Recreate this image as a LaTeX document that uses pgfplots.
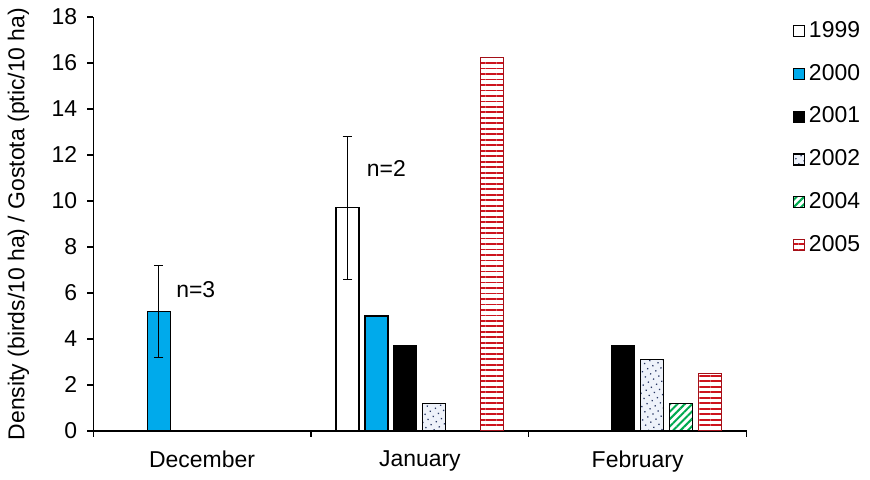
\documentclass[border=0pt]{standalone}
\usepackage{pgfplots}
\pgfplotsset{compat=1.18}
\usepackage{fontspec}
\setmainfont{Liberation Sans}
\usetikzlibrary{patterns.meta}
\definecolor{c2000}{RGB}{0,170,235}
\definecolor{c2004}{RGB}{0,170,80}
\definecolor{c2005}{RGB}{205,20,30}
\definecolor{c2002}{RGB}{40,55,100}
\definecolor{c2002bg}{RGB}{238,242,250}
\pgfplotsset{/pgfplots/ybar legend/.style={/pgfplots/legend image code/.code={\draw[##1,bar shift=0pt] (0pt,-2.75pt) rectangle (5.5pt,2.75pt);}}}
\begin{document}
\fontsize{11.5}{13.5}\selectfont
\begin{tikzpicture}[font=\fontsize{11.5}{13.5}\selectfont]
\begin{axis}[
  name=ax,
  scale only axis, width=327.5pt, height=207.5pt,
  xmin=-0.5, xmax=2.5, ymin=0, ymax=18,
  axis lines*=left,
  axis line style={line width=0.6pt},
  ytick={0,2,...,18},
  xtick={-0.5,0.5,1.5,2.5}, xticklabels={},
  extra x ticks={0,1,2},
  extra x tick labels={December,January,February},
  extra x tick style={major tick length=0pt, tick label style={yshift=-6pt}},
  tick align=outside, major tick length=3pt,
  tick style={black, line width=0.6pt},
  yticklabel style={xshift=-1pt},
  /pgf/number format/assume math mode=true,
  ylabel={Density (birds/10 ha) / Gostota (ptic/10 ha)},
  ylabel style={at={(axis description cs:-0.1145,0.5)}, anchor=center},
  ybar, bar width=11.5pt,
  legend style={at={(axis description cs:1,1)}, anchor=north west, xshift=20pt, yshift=2pt,
    draw=none, fill=none, row sep=7.7pt, nodes={inner xsep=2pt}},
  legend cell align=left,
  error bars/error bar style={black, line width=0.6pt},
  error bars/error mark options={black, line width=0.6pt, mark size=2.4pt, rotate=90},
]
% 1999
\addplot[bar shift=-36.25pt, draw=black, line width=0.6pt, fill=white,
  error bars/.cd, y dir=both, y explicit]
  coordinates {(1,9.7) +- (0,3.1)};
% 2000
\addplot[bar shift=-21.75pt, draw=black, line width=0.6pt, fill=c2000,
  error bars/.cd, y dir=both, y explicit]
  coordinates {(0,5.2) +- (0,2.0)};
% 2001
\addplot[bar shift=-7.25pt, draw=black, line width=0.6pt, fill=black]
  coordinates {(1,3.7) (2,3.7)};
% 2002
\addplot[bar shift=7.25pt, draw=black, line width=0.6pt, fill=c2002bg,
  postaction={pattern={Dots[distance=3pt, radius=0.45pt, angle=30]}, pattern color=c2002}]
  coordinates {(1,1.2) (2,3.1)};
% 2004
\addplot[bar shift=21.75pt, draw=black, line width=0.6pt, fill=white,
  postaction={pattern={Lines[angle=45, distance=2.6pt, line width=1pt]}, pattern color=c2004}]
  coordinates {(2,1.2)};
% 2005
\addplot[bar shift=36.25pt, draw=c2005!80!black, line width=0.6pt, fill=white,
  postaction={pattern={Lines[angle=0, distance=2.75pt, line width=0.9pt]}, pattern color=c2005}]
  coordinates {(1,16.25) (2,2.5)};
% 2000 January (no error bar)
\addplot[forget plot, bar shift=-21.75pt, draw=black, line width=0.6pt, fill=c2000]
  coordinates {(1,5.0)};
\legend{1999,2000,2001,2002,2004,2005}
\node[anchor=west] at (axis cs:-0.155,6.16) {n=3};
\node[anchor=west] at (axis cs:0.72,11.4) {n=2};
\end{axis}
\path (ax.south west) ++(-46.5pt,-19.5pt) rectangle ++(435pt,235.5pt);
\end{tikzpicture}
\end{document}
